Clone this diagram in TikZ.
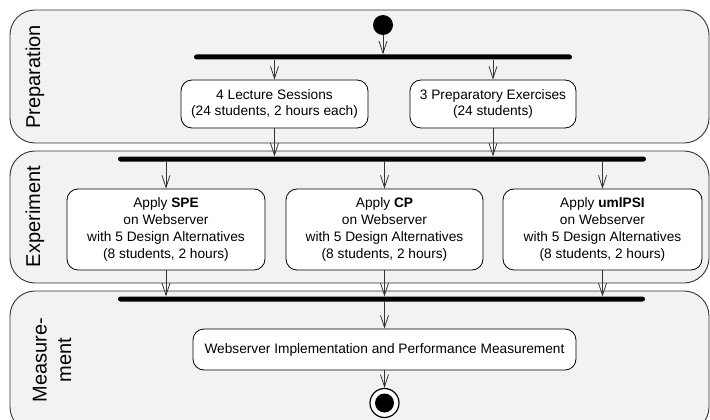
\documentclass[tikz,border=0pt]{standalone}
\usepackage{fontspec}
\setmainfont{Liberation Sans}
\usetikzlibrary{arrows.meta}
\definecolor{lanefill}{HTML}{F2F2F2}
\definecolor{lanedraw}{HTML}{333333}
\begin{document}
\begin{tikzpicture}[x=1pt,y=-1pt,
  lane/.style={draw=lanedraw, line width=0.9pt, fill=lanefill, rounded corners=25pt},
  lanelabel/.style={rotate=90, align=center, font=\fontsize{20}{24.5}\selectfont, inner sep=0},
  act/.style={draw=black, line width=0.8pt, fill=white, rounded corners=11pt, align=center,
    inner sep=0, font=\fontsize{13.7}{16.7}\selectfont},
  bar/.style={fill=black, inner sep=0, minimum height=5pt, rounded corners=2.5pt},
  flow/.style={draw=black!80, line width=0.8pt, -{Straight Barb[length=12pt,width=8pt,line width=0.8pt]}}
]
\useasboundingbox (0,0) rectangle (710,420);
% swimlanes
\draw[lane] (10,10) rectangle (709,143);
\draw[lane] (10,151) rectangle (709,283);
\draw[lane] (10,291) rectangle (709,432);
\node[lanelabel] (lprep) at (35,77) {Preparation};
\node[lanelabel] (lexp) at (35,216.5) {Experiment};
\node[lanelabel] (lmeas) at (52,360) {Measure-\\ment};
% start / bars
\node[circle, fill=black, minimum size=20pt, inner sep=0] (start) at (383,25) {};
\node[bar, minimum width=378pt] (bar1) at (383,57) {};
\node[bar, minimum width=528pt] (bar2) at (382,159) {};
\node[bar, minimum width=527pt] (bar3) at (381.5,299) {};
% activities
\node[act, minimum width=187pt, minimum height=48pt] (lec) at (274.5,104)
  {4 Lecture Sessions\\(24 students, 2 hours each)};
\node[act, minimum width=166pt, minimum height=48pt] (prep) at (493,104)
  {3 Preparatory Exercises\\(24 students)};
\node[act, minimum width=198pt, minimum height=81pt] (spe) at (166,229.5)
  {Apply \textbf{SPE}\\on Webserver\\with 5 Design Alternatives\\(8 students, 2 hours)};
\node[act, minimum width=197pt, minimum height=81pt] (cp) at (384.5,229.5)
  {Apply \textbf{CP}\\on Webserver\\with 5 Design Alternatives\\(8 students, 2 hours)};
\node[act, minimum width=199pt, minimum height=81pt] (uml) at (602.5,229.5)
  {Apply \textbf{umlPSI}\\on Webserver\\with 5 Design Alternatives\\(8 students, 2 hours)};
\node[act, minimum width=383pt, minimum height=41pt] (meas) at (384.5,349.5)
  {Webserver Implementation and Performance Measurement};
% end
\node[circle, draw=black, line width=1.2pt, fill=white, minimum size=29pt, inner sep=0] (end) at (384.5,403) {};
\node[circle, fill=black, minimum size=19pt, inner sep=0] (endin) at (end.center) {};
% flows
\draw[flow] (start.south) -- (start.south |- bar1.north);
\draw[flow] (bar1.south -| lec.north) -- (lec.north);
\draw[flow] (bar1.south -| prep.north) -- (prep.north);
\draw[flow] (lec.south) -- (lec.south |- bar2.north);
\draw[flow] (prep.south) -- (prep.south |- bar2.north);
\draw[flow] (bar2.south -| spe.north) -- (spe.north);
\draw[flow] (bar2.south -| cp.north) -- (cp.north);
\draw[flow] (bar2.south -| uml.north) -- (uml.north);
\draw[flow] (spe.south) -- (spe.south |- bar3.north);
\draw[flow] (cp.south) -- (cp.south |- bar3.north);
\draw[flow] (uml.south) -- (uml.south |- bar3.north);
\draw[flow] (bar3.south -| meas.north) -- (meas.north);
\draw[flow] (meas.south) -- (end.north);
\end{tikzpicture}
\end{document}
